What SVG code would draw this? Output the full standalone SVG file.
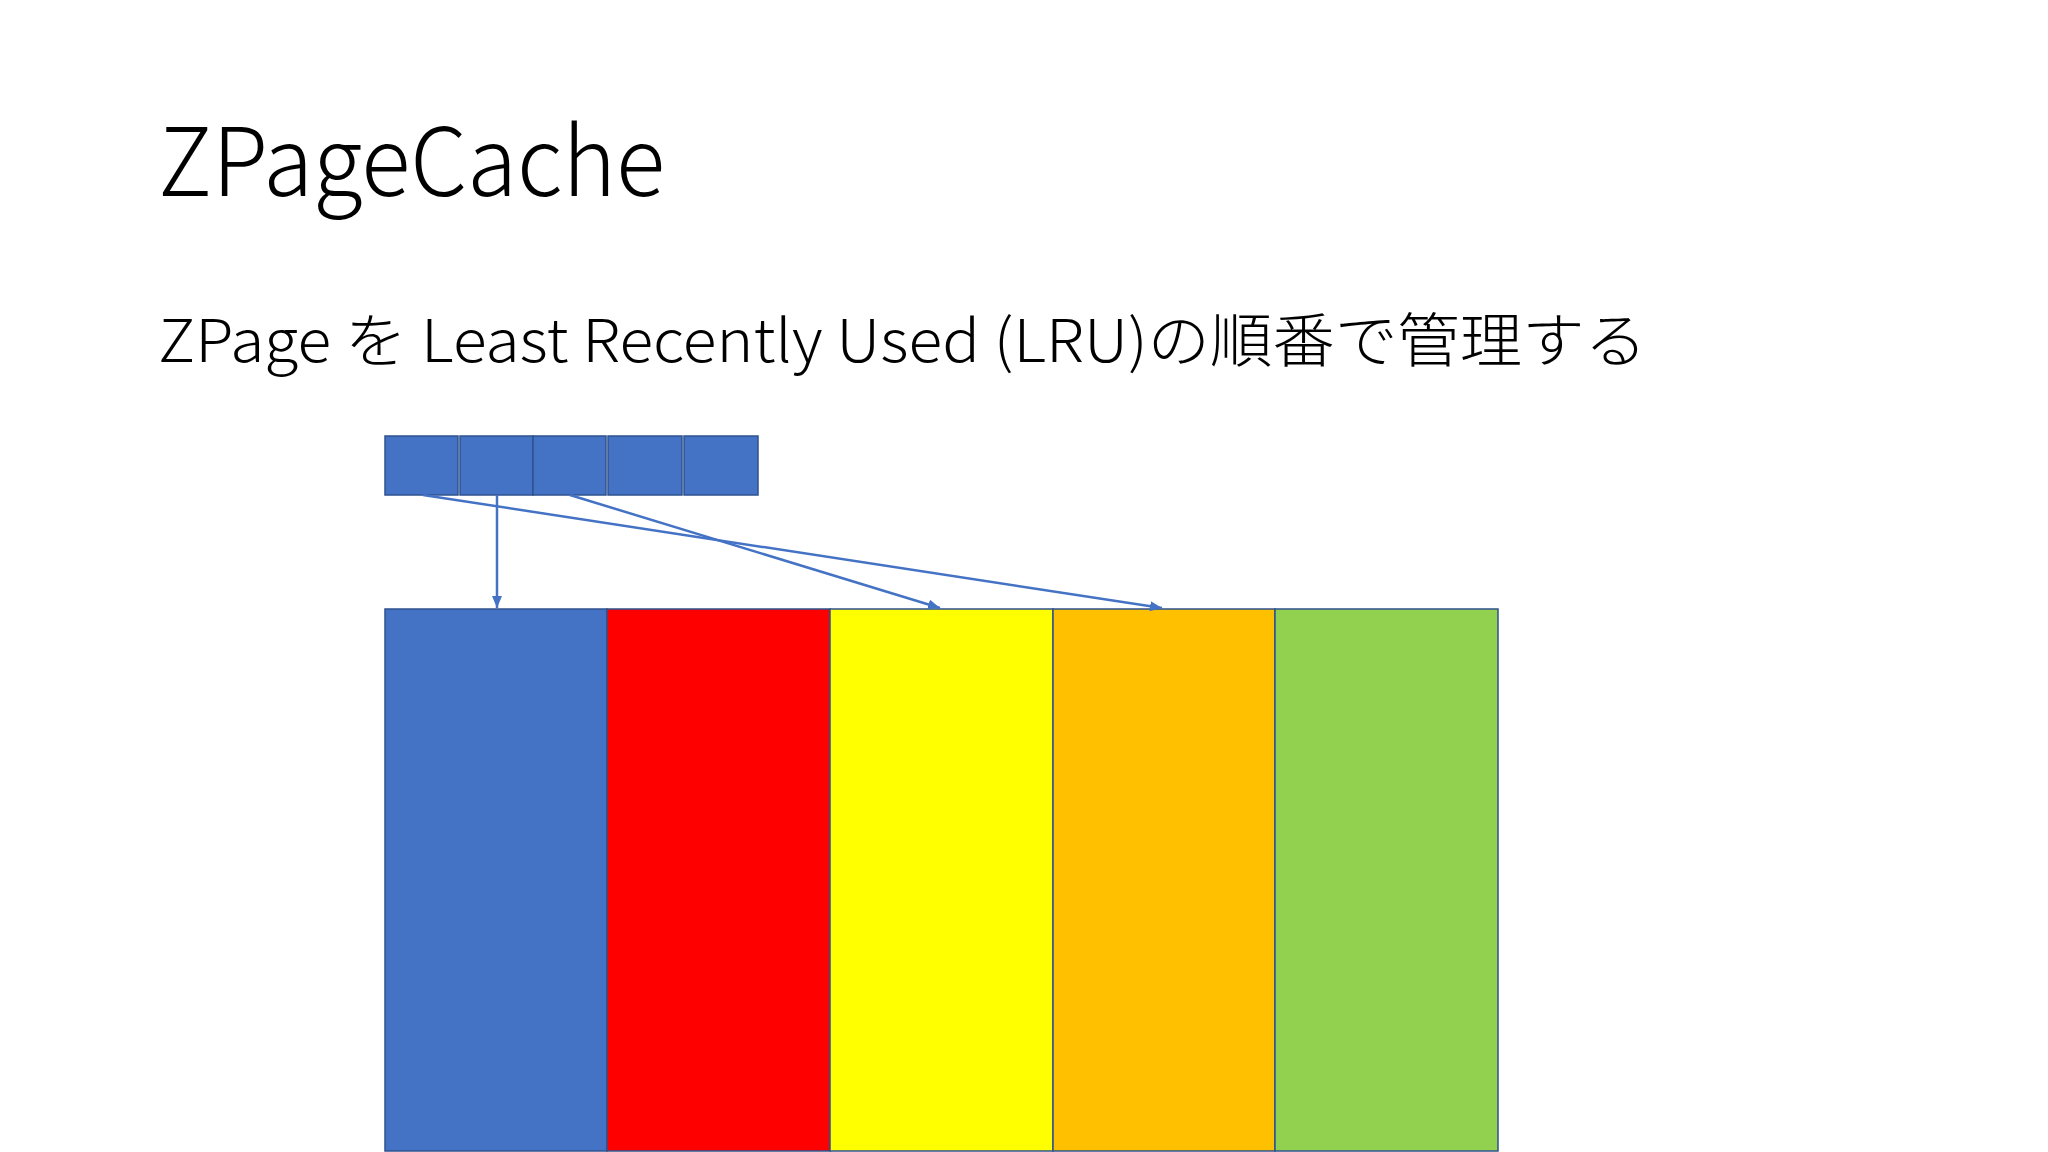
<svg xmlns="http://www.w3.org/2000/svg" width="2048" height="1152" viewBox="0 0 2048 1152">
  <style>
    .title { font-family: "Noto Sans CJK JP", "Noto Sans", sans-serif; font-weight: 300; fill: #000; }
    .sub { font-family: "Noto Sans CJK JP", "Noto Sans", sans-serif; font-weight: 300; fill: #000; }
    .slot { fill: #4472C4; stroke: #2F528F; stroke-width: 1.5; }
    .page { stroke: #2F528F; stroke-width: 1.5; }
    .conn { stroke: #4472C4; stroke-width: 2.5; fill: none; marker-end: url(#arrow); }
  </style>
  <defs>
    <marker id="arrow" markerWidth="12" markerHeight="10" refX="12" refY="5" orient="auto" markerUnits="userSpaceOnUse">
      <path d="M0,0 L12,5 L0,10 Z" fill="#4472C4"/>
    </marker>
  </defs>
  <rect x="0" y="0" width="2048" height="1152" fill="#FFFFFF"/>
  <g id="title">
    <text class="title" x="158" y="196" font-size="95" textLength="507" lengthAdjust="spacingAndGlyphs">ZPageCache</text>
  </g>
  <g id="subtitle">
    <text class="sub" x="158" y="362" font-size="59" textLength="1489" lengthAdjust="spacingAndGlyphs">ZPage を Least Recently Used (LRU)の順番で管理する</text>
  </g>
  <g id="lru-list">
    <rect id="slot1" class="slot" x="385" y="436" width="73" height="59"/>
    <rect id="slot2" class="slot" x="460" y="436" width="73" height="59"/>
    <rect id="slot3" class="slot" x="533" y="436" width="73" height="59"/>
    <rect id="slot4" class="slot" x="608" y="436" width="74" height="59"/>
    <rect id="slot5" class="slot" x="684" y="436" width="74" height="59"/>
  </g>
  <g id="pages">
    <rect id="page-blue" class="page" x="385" y="609" width="222" height="542" fill="#4472C4"/>
    <rect id="page-red" class="page" x="607" y="609" width="223" height="542" fill="#FF0000"/>
    <rect id="page-yellow" class="page" x="830" y="609" width="223" height="542" fill="#FFFF00"/>
    <rect id="page-orange" class="page" x="1053" y="609" width="222" height="542" fill="#FFC000"/>
    <rect id="page-green" class="page" x="1275" y="609" width="223" height="542" fill="#92D050"/>
  </g>
  <g id="connectors">
    <line class="conn" x1="497" y1="495" x2="497" y2="608"/>
    <line class="conn" x1="570" y1="495" x2="940" y2="608"/>
    <line class="conn" x1="423" y1="495" x2="1162" y2="608"/>
  </g>
</svg>
